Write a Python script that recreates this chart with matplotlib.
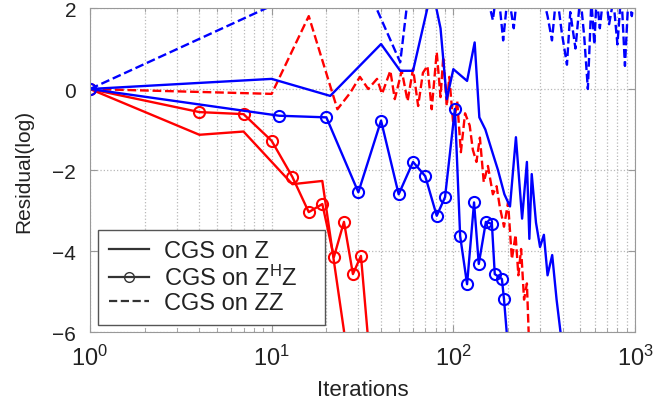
import numpy as np
import matplotlib
matplotlib.use("Agg")
import matplotlib.pyplot as plt
from matplotlib.lines import Line2D

plt.rcParams['font.family'] = ['Liberation Sans', 'DejaVu Sans']
plt.rcParams['mathtext.fontset'] = 'custom'
plt.rcParams['mathtext.rm'] = 'Liberation Sans'
plt.rcParams['mathtext.it'] = 'Liberation Sans:italic'
plt.rcParams['mathtext.bf'] = 'Liberation Sans:bold'

# CGS on Z (solid)
red_z_x = [1, 4, 7, 13, 19, 26]
red_z_y = [0, -1.13, -1.05, -2.35, -2.27, -6.5]
blue_z_x = [1, 10, 21, 40, 51, 60, 72, 78, 85, 92, 100, 119, 131, 139, 150, 165, 176,
            191, 205, 221, 239, 254, 262, 270, 285, 300, 315, 330, 350, 370, 401]
blue_z_y = [0, 0.25, -0.17, 1.11, 0.45, 0.45, 2.0, 2.3, 1.5, -0.25, 0.49, 0.2, 1.15, -0.7,
            -1.0, -1.6, -2.0, -2.6, -2.9, -1.19, -3.2, -1.8, -3.7, -2.1, -3.3, -3.9, -3.6,
            -4.6, -4.1, -5.2, -6.5]

# CGS on Z^H Z (circles)
red_zhz_x = [1, 4, 7, 10, 13, 16, 19, 22, 25, 28, 31, 36]
red_zhz_y = [0, -0.57, -0.62, -1.28, -2.17, -3.04, -2.84, -4.15, -3.28, -4.57, -4.12, -7.5]
blue_zhz_x = [1, 11, 20, 30, 40, 50, 60, 70, 81, 90, 102, 109, 119, 130, 138, 151, 163,
              169, 185, 190, 205]
blue_zhz_y = [0, -0.66, -0.7, -2.55, -0.78, -2.6, -1.8, -2.15, -3.13, -2.67, -0.49, -3.63,
              -4.82, -2.8, -4.32, -3.28, -3.33, -4.57, -4.69, -5.19, -7.0]

# CGS on ZZ (dashed)
red_zz_x = [1, 10, 16, 23, 27, 30.6, 34, 38, 40.5, 45, 47.6, 52, 56, 60, 64, 68, 72, 76,
            81, 85, 88, 92, 95, 100, 105, 110, 116, 123, 128, 134, 140, 147, 155, 165, 173,
            180, 190, 200, 210, 220, 228, 236, 245, 254, 262]
red_zz_y = [0, -0.12, 1.8, -0.5, -0.1, 0.3, 0.0, 0.25, -0.12, 0.45, -0.25, 0.45, -0.3,
            0.5, -0.42, 0.4, 0.57, -0.5, 0.91, -0.2, 0.8, -0.42, 0.3, -0.9, -0.3, -1.56,
            -0.6, -0.9, -1.5, -1.8, -1.2, -2.3, -1.9, -2.6, -2.4, -2.9, -3.4, -2.8, -4.2,
            -3.6, -4.6, -3.95, -5.2, -4.8, -6.5]
blue_zz_x = [1, 12, 25, 36, 51, 56, 62, 75, 90, 110, 130, 150, 165, 175, 188, 200, 215,
             230, 300, 330, 349, 370, 395, 422, 440, 470, 500, 525, 550, 575, 597, 615,
             640, 680, 720, 760, 800, 840, 880, 920, 960, 1000]
blue_zz_y = [0, 2.22, 3.2, 2.2, 0.66, 2.2, 3.0, 2.5, 3.0, 2.8, 3.0, 2.5, 1.7, 2.6, 1.2,
             2.4, 1.5, 2.8, 2.6, 1.8, 1.2, 2.4, 1.4, 0.6, 1.9, 1.0, 2.3, 1.3, 0.0, 2.2,
             1.1, 2.3, 1.5, 2.6, 1.6, 2.2, 1.1, 2.4, 0.57, 2.3, 1.8, 2.4]

fig = plt.figure(figsize=(6.54, 4.02), dpi=100)
ax = fig.add_axes([0.1376, 0.1716, 0.8334, 0.806])

lw = 1.7
ax.plot(red_z_x, red_z_y, '-', color='r', lw=lw)
ax.plot(red_zhz_x, red_zhz_y, '-o', color='r', lw=lw, ms=8, mfc='none', mew=1.5)
ax.plot(red_zz_x, red_zz_y, '--', color='r', lw=lw)
ax.plot(blue_z_x, blue_z_y, '-', color='b', lw=lw)
ax.plot(blue_zhz_x, blue_zhz_y, '-o', color='b', lw=lw, ms=8, mfc='none', mew=1.5)
ax.plot(blue_zz_x, blue_zz_y, '--', color='b', lw=lw)

ax.set_xscale('log')
ax.set_xlim(1, 1000)
ax.set_ylim(-6, 2)
ax.set_yticks([-6, -4, -2, 0, 2])
ax.grid(True, which='both', linestyle=':', color='#b8b8b8', linewidth=0.9)
ax.tick_params(which='both', direction='in', top=True, right=True, colors='#999999',
               labelcolor='#222222')
ax.tick_params(axis='x', which='major', labelsize=17, pad=9, length=5)
ax.tick_params(axis='x', which='minor', length=3)
ax.tick_params(axis='y', labelsize=15, length=5, pad=10)
for s in ax.spines.values():
    s.set_color('#999999')

ax.set_ylabel('Residual(log)', fontsize=15, color='#222222', labelpad=14)
ax.set_xlabel('Iterations', fontsize=16, color='#222222', labelpad=7)

handles = [Line2D([], [], color='#333333', lw=1.6, ls='-'),
           Line2D([], [], color='#333333', lw=1.6, ls='-', marker='o', mfc='none', ms=7),
           Line2D([], [], color='#333333', lw=1.6, ls='--')]
labels = ['CGS on Z', 'CGS on Z$^{\\mathrm{H}}$Z', 'CGS on ZZ']
leg = ax.legend(handles, labels, loc='lower left',
                bbox_to_anchor=(0.0147, 0.0216, 0.4165, 0.3), mode='expand',
                fontsize=17, frameon=True, fancybox=False, edgecolor='#555555',
                labelspacing=0.1, handlelength=1.7, handletextpad=0.65,
                borderpad=0.45, borderaxespad=0, framealpha=1)
for t in leg.get_texts():
    t.set_color('#222222')

fig.savefig('out.png', dpi=100)
